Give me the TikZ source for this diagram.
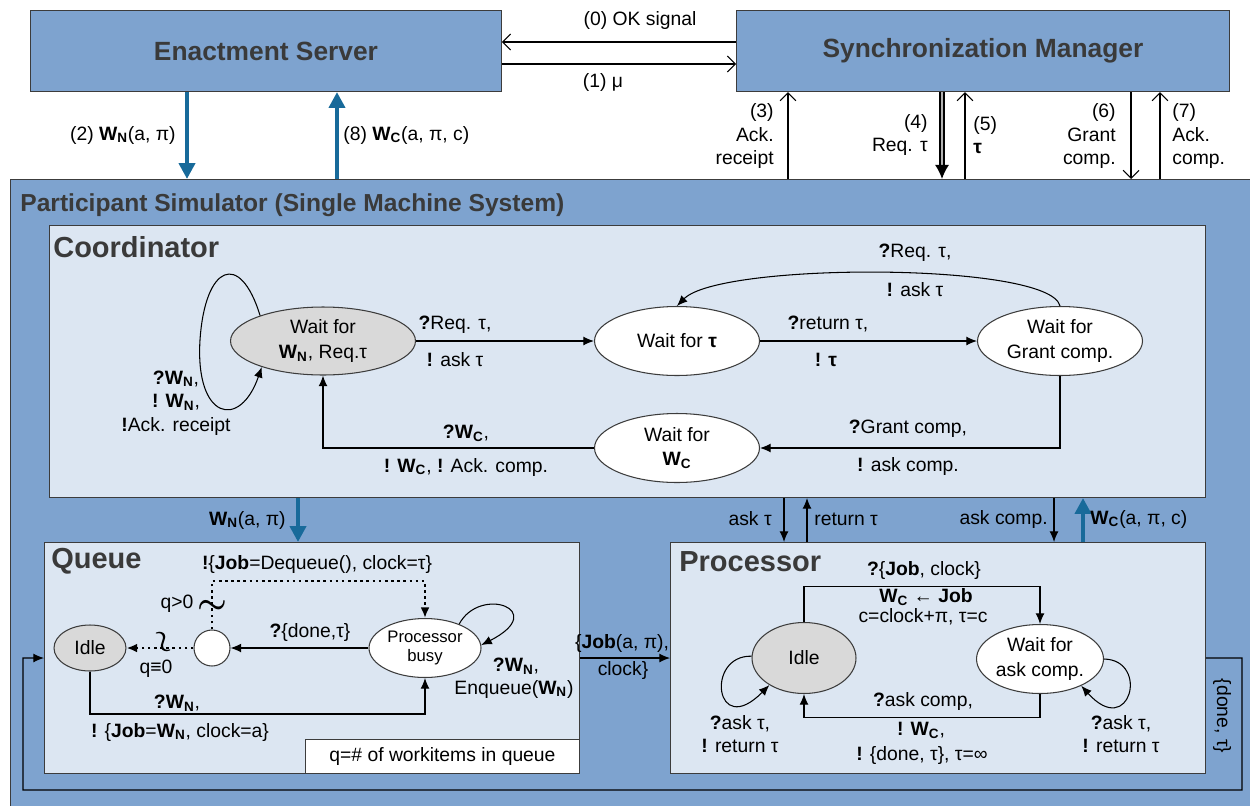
\documentclass[tikz,border=0pt]{standalone}
\usepackage{bm}
\usepackage{fontspec}
\setmainfont{Liberation Sans}
\usetikzlibrary{arrows.meta,shapes.geometric}

\definecolor{boxblue}{RGB}{126,163,207}
\definecolor{paleblue}{RGB}{220,230,242}
\definecolor{flowblue}{RGB}{24,106,154}
\definecolor{stategray}{RGB}{217,217,217}
\definecolor{rimgray}{RGB}{60,60,60}
\definecolor{titlegray}{RGB}{58,58,58}

\newcommand{\WN}{\textbf{W\textsubscript{N}}}
\newcommand{\WC}{\textbf{W\textsubscript{C}}}
\newcommand{\rcv}{\textbf{?}}
\newcommand{\snd}{\textbf{!}}

\tikzset{
  box/.style={draw=rimgray, line width=0.6pt, fill=boxblue, anchor=north west, inner sep=0pt},
  panel/.style={box, fill=paleblue},
  bigtitle/.style={font=\fontsize{15}{18}\selectfont\bfseries, text=titlegray},
  paneltitle/.style={anchor=west, font=\fontsize{16.5}{20}\selectfont\bfseries, text=titlegray, inner sep=0pt},
  lbl/.style={font=\fontsize{11}{13.5}\selectfont, inner sep=0pt},
  state/.style={ellipse, draw=rimgray, line width=0.6pt, fill=white, inner sep=0pt, align=center, font=\fontsize{11}{14}\selectfont},
  idlestate/.style={state, fill=stategray},
  tip/.style={-{Latex[length=6pt,width=5pt]}, line width=0.6pt},
  opentip/.style={-{Straight Barb[length=4.5pt,width=9pt]}, line width=0.6pt},
  flow/.style={draw=flowblue, line width=2.6pt, -{Triangle[length=9pt,width=9pt]}},
  reqline/.style={line width=0.9pt, double=gray!60, double distance=1.4pt, -{Latex[length=8pt,width=8pt]}},
  guard/.style={tip, line width=1.5pt, dotted},
  squiggle/.style={scale=1.9, inner sep=0pt},
}

\begin{document}
\begin{tikzpicture}[x=0.02cm, y=-0.02cm]
    \useasboundingbox (0,0) rectangle (1250,805);

    % Draw the two servers
    \node[box, bigtitle, minimum width=9.42cm, minimum height=1.62cm] (es) at (30,10) {Enactment Server};
    \node[box, bigtitle, minimum width=9.86cm, minimum height=1.62cm] (sm) at (736,10) {Synchronization Manager};

    % Draw the simulator and its parts
    \node[box, minimum width=24.9cm, minimum height=12.7cm] (ps) at (10,179) {};
    \node[paneltitle, font=\fontsize{14}{17}\selectfont\bfseries] (pst) at (20,205) {Participant Simulator (Single Machine System)};
    \node[panel, minimum width=23.12cm, minimum height=5.44cm] (coord) at (49,225) {};
    \node[paneltitle] (coordt) at (53,247) {Coordinator};
    \node[panel, minimum width=10.7cm, minimum height=4.62cm] (queue) at (44,542) {};
    \node[paneltitle] (queuet) at (51,561) {Queue};
    \node[panel, minimum width=10.7cm, minimum height=4.62cm] (proc) at (670,542) {};
    \node[paneltitle] (proct) at (679,562) {Processor};

    % Server <-> manager
    \draw[opentip] (sm.west |- 0,42) -- (es.east |- 0,42);
    \node[lbl] (ok) at (640,21) {(0) OK signal};
    \draw[opentip] (es.east |- 0,64) -- (sm.west |- 0,64);
    \node[lbl] (mu) at (603,82) {(1) μ};

    % Server <-> simulator
    \draw[flow] (es.south -| 187,0) -- (ps.north -| 187,0);
    \draw[flow] (ps.north -| 337,0) -- (es.south -| 337,0);
    \node[lbl, anchor=east] (w2) at (176,135) {(2) \WN(a, π)};
    \node[lbl, anchor=west] (w8) at (343,135) {(8) \WC(a, π, c)};

    % Manager <-> simulator
    \draw[opentip] (ps.north -| 788,0) -- (sm.south -| 788,0);
    \node[lbl, anchor=east, align=right] (m3) at (774,136) {(3)\\Ack.\\receipt};
    \draw[reqline] (sm.south -| 942,0) -- (ps.north -| 942,0);
    \node[lbl, anchor=east, align=right] (m4) at (928,135) {(4)\\Req. τ};
    \draw[opentip] (ps.north -| 965,0) -- (sm.south -| 965,0);
    \node[lbl, anchor=west, align=left] (m5) at (973,135) {(5)\\\textbf{τ}};
    \draw[opentip] (sm.south -| 1131,0) -- (ps.north -| 1131,0);
    \node[lbl, anchor=east, align=right] (m6) at (1116,136) {(6)\\Grant\\comp.};
    \draw[opentip] (ps.north -| 1160,0) -- (sm.south -| 1160,0);
    \node[lbl, anchor=west, align=left] (m7) at (1172,136) {(7)\\Ack.\\comp.};

    % Coordinator states
    \node[idlestate, minimum width=3.7cm, minimum height=1.36cm] (cw1) at (323,341) {Wait for\\\WN, Req.τ};
    \node[state, minimum width=3.3cm, minimum height=1.38cm] (cw2) at (677,341) {Wait for \textbf{τ}};
    \node[state, minimum width=3.3cm, minimum height=1.38cm] (cw3) at (1060,341) {Wait for\\Grant comp.};
    \node[state, minimum width=3.3cm, minimum height=1.38cm] (cw4) at (677,448) {Wait for\\\WC};

    \draw[tip] (cw1) -- (cw2);
    \node[lbl] (c1a) at (455,325) {\rcv Req. τ,};
    \node[lbl] (c1b) at (455,360) {\snd{} ask τ};
    \draw[tip] (cw2) -- (cw3);
    \node[lbl] (c2a) at (828,324) {\rcv return τ,};
    \node[lbl] (c2b) at (826,360) {\snd{} \textbf{τ}};
    \draw[tip] (cw3.north) .. controls (1050,262) and (720,262) .. (cw2.north);
    \node[lbl] (c3a) at (915,253) {\rcv Req. τ,};
    \node[lbl] (c3b) at (915,290) {\snd{} ask τ};
    \draw[tip] (cw3.south) |- (cw4.east);
    \node[lbl] (c4a) at (908,429) {\rcv Grant comp,};
    \node[lbl] (c4b) at (908,466) {\snd{} ask comp.};
    \draw[tip] (cw4.west) -| (cw1.south);
    \node[lbl] (c5a) at (466,433) {\rcv\WC,};
    \node[lbl] (c5b) at (466,467) {\snd{} \WC, \snd{} Ack. comp.};
    \draw[tip] (cw1.158) .. controls (240,250) and (205,265) .. (200,340) .. controls (195,420) and (240,430) .. (cw1.203);
    \node[lbl, align=center] (c6) at (176,403) {\rcv\WN,\\\snd{} \WN,\\\snd Ack. receipt};

    % Coordinator <-> queue and processor
    \draw[flow] (coord.south -| 298,0) -- (queue.north -| 298,0);
    \node[lbl, anchor=east] (a0) at (286,520) {\WN(a, π)};
    \draw[tip] (coord.south -| 784,0) -- (proc.north -| 784,0);
    \node[lbl, anchor=east] (a1) at (772,519) {ask τ};
    \draw[tip] (proc.north -| 807,0) -- (coord.south -| 807,0);
    \node[lbl, anchor=west] (a2) at (814,519) {return τ};
    \draw[tip] (coord.south -| 1054,0) -- (proc.north -| 1054,0);
    \node[lbl, anchor=east] (a3) at (1048,519) {ask comp.};
    \draw[flow] (proc.north -| 1083,0) -- (coord.south -| 1083,0);
    \node[lbl, anchor=west] (a4) at (1090,519) {\WC(a, π, c)};

    % Queue states
    \node[idlestate, minimum width=1.44cm, minimum height=0.92cm] (qidle) at (90,648) {Idle};
    \node[circle, draw=rimgray, line width=0.6pt, fill=white, minimum size=0.72cm, inner sep=0pt] (qc) at (212,648) {};
    \node[state, minimum width=2.24cm, minimum height=1.18cm, font=\fontsize{9.5}{11}\selectfont] (qbusy) at (425,648) {Processor\\busy};
    \coordinate (qtop) at (212,581);

    \draw[guard] (qc.west) -- (qidle.east);
    \node[squiggle, scale=0.85, rotate=-70] (g0) at (162,643) {$\bm\sim$};
    \node[lbl] (q4) at (156,669) {q≡0};
    \draw[guard] (qc.north) -- (qtop) -| (qbusy.north);
    \node[squiggle] (g1) at (212,607) {$\bm\sim$};
    \node[lbl] (q3) at (177,604) {q>0};
    \node[lbl] (q1) at (317,564) {\snd\{\textbf{Job}=Dequeue(), clock=τ\}};
    \draw[tip] (qbusy.west) -- (qc.east);
    \node[lbl] (q2) at (310,632) {\rcv\{done,τ\}};
    \draw[tip] (qbusy.35) .. controls (480,585) and (550,610) .. (qbusy.3);
    \node[lbl] (q5) at (516,666) {\rcv\WN,};
    \node[lbl] (q6) at (514,689) {Enqueue(\WN)};
    \draw[tip] (qidle.south) |- ([yshift=-0.72cm]qbusy.south) -- (qbusy.south);
    \node[lbl] (q7) at (177,703) {\rcv\WN,};
    \node[lbl] (q8) at (180,732) {\snd{} \{\textbf{Job}=\WN, clock=a\}};
    \node[box, fill=white, anchor=south east, minimum width=5.48cm, minimum height=0.68cm, lbl] (qnote) at (queue.south east) {q=\# of workitems in queue};

    % Queue -> processor
    \draw[tip] (queue.east) -- (proc.west);
    \node[lbl] (j1) at (622,643) {\{\textbf{Job}(a, π),};
    \node[lbl] (j2) at (623,670) {clock\}};

    % Processor states
    \node[idlestate, minimum width=2.08cm, minimum height=1.42cm] (pidle) at (804,658) {Idle};
    \node[state, minimum width=2.54cm, minimum height=1.38cm] (pwait) at (1040,659) {Wait for\\ask comp.};

    \draw[tip] (pidle.north) |- ([yshift=0.75cm]pwait.north) -- (pwait.north);
    \node[lbl] (p1) at (924,570) {\rcv\{\textbf{Job}, clock\}};
    \node[lbl] (p2) at (926,597) {\WC{} ← \textbf{Job}};
    \node[lbl] (p3) at (923,617) {c=clock+π, τ=c};
    \draw[tip] (pwait.south) -- ([yshift=-0.46cm]pwait.south) -| (pidle.south);
    \node[lbl] (p4) at (923,701) {\rcv ask comp,};
    \node[lbl] (p5) at (921,730) {\snd{} \WC,};
    \node[lbl] (p6) at (922,755) {\snd{} \{done, τ\}, τ=∞};
    \draw[tip] (pidle.178) .. controls (705,655) and (715,740) .. (pidle.218);
    \node[lbl, align=center] (p7) at (740,734) {\rcv ask τ,\\\snd{} return τ};
    \draw[tip] (pwait.east) .. controls (1150,660) and (1130,740) .. (pwait.-33);
    \node[lbl, align=center] (p8) at (1121,734) {\rcv ask τ,\\\snd{} return τ};

    % Done signal back to queue
    \coordinate (dr) at (1242,790);
    \coordinate (dl) at (23,658);
    \draw[tip] (proc.east) -| (dr) -| (dl) -- (queue.west);
    \node[lbl, rotate=-90] (done) at (1222,716) {\{done, τ\}};
\end{tikzpicture}
\end{document}
